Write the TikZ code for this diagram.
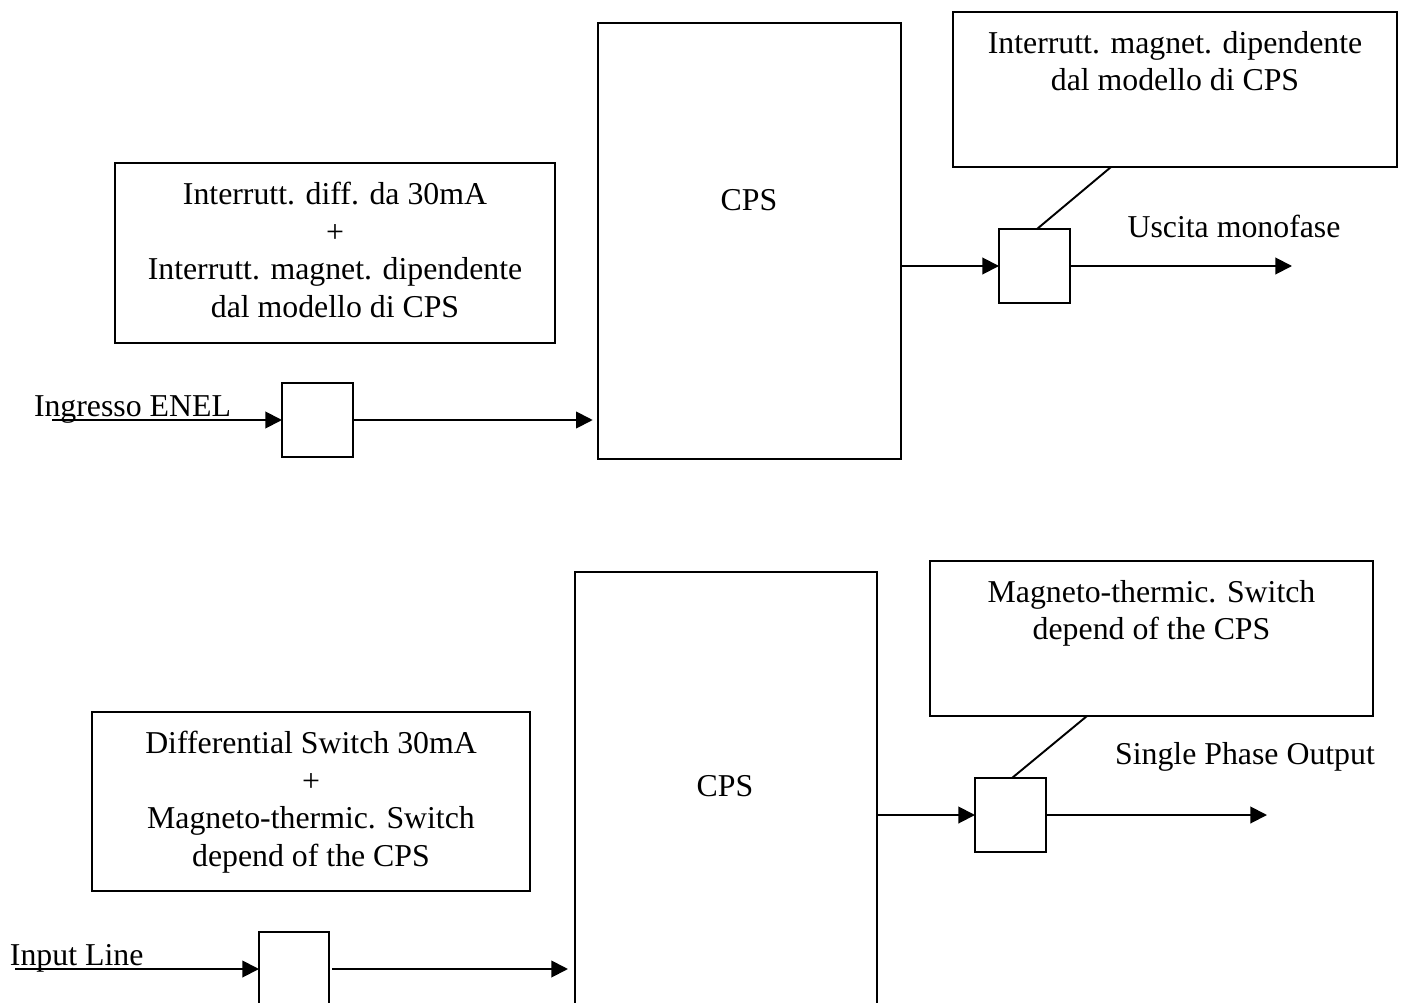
\documentclass[tikz,border=0pt]{standalone}
\usepackage{fontspec}
\setmainfont{Liberation Serif}
\usetikzlibrary{arrows.meta,calc,fit}
\begin{document}
\begin{tikzpicture}[x=0.02cm,y=-0.02cm,
  every node/.style={font=\fontsize{18.1}{21.5}\selectfont, inner sep=0pt, outer sep=0pt},
  box/.style={draw, line width=1.1pt, rectangle, inner sep=0pt},
  lbl/.style={align=center, anchor=north},
  arr/.style={line width=1.1pt, -{Triangle[length=9.5pt,width=9.5pt]}},
  ln/.style={line width=1.1pt}]
\useasboundingbox (0,0) rectangle (1402,1003);
\clip (0,0) rectangle (1402,1003);

% ---------- top diagram ----------
\node[box, fit={(115,163) (555,343)}] (B1) {};
\node[lbl] (T1) at ($(B1.north)+(0,19)$) {Interrutt. diff. da 30mA\\+\\Interrutt. magnet. dipendente\\dal modello di CPS};
\node[box, fit={(282,383) (353,457)}] (S1) {};
\node[box, fit={(598,23) (901,459)}] (C1) {};
\node[anchor=base] (C1t) at (749,211) {CPS};
\node[box, fit={(999,229) (1070,303)}] (S2) {};
\node[box, fit={(953,12) (1397,167)}] (B2) {};
\node[lbl] (T2) at ($(B2.north)+(0,19)$) {Interrutt. magnet. dipendente\\dal modello di CPS};
\node[anchor=base west] (in1t) at (34,416) {Ingresso ENEL};
\node[anchor=base] (out1t) at (1234,238) {Uscita monofase};
\coordinate (in1) at (52,420);
\coordinate (out1) at (1292,266);
\draw[arr] (in1) -- (in1 -| S1.west);
\draw[arr, shorten >=3pt] (S1.east) -- (S1.east -| C1.west);
\draw[arr] (S2.west -| C1.east) -- (S2.west);
\draw[arr] (S2.east) -- (out1);
\draw[ln] ($(S2.north west)+(38,0)$) -- ($(B2.south west)+(158,0)$);

% ---------- bottom diagram ----------
\node[box, fit={(92,712) (530,891)}] (B3) {};
\node[lbl] (T3) at ($(B3.north)+(0,19)$) {Differential Switch 30mA\\+\\Magneto-thermic. Switch\\depend of the CPS};
\node[box, fit={(259,932) (329,1060)}] (S3) {};
\node[box, fit={(575,572) (877,1060)}] (C2) {};
\node[anchor=base] (C2t) at (725,796) {CPS};
\node[box, fit={(975,778) (1046,852)}] (S4) {};
\node[box, fit={(930,561) (1373,716)}] (B4) {};
\node[lbl] (T4) at ($(B4.north)+(0,19)$) {Magneto-thermic. Switch\\depend of the CPS};
\node[anchor=base west] (in2t) at (10,965) {Input Line};
\node[anchor=base] (out2t) at (1245,764) {Single Phase Output};
\coordinate (in2) at (15,969);
\coordinate (out2) at (1267,815);
\draw[arr] (in2) -- (in2 -| S3.west);
\draw[arr, shorten >=4pt] ($(in2 -| S3.east)+(3,0)$) -- (in2 -| C2.west);
\draw[arr] (S4.west -| C2.east) -- (S4.west);
\draw[arr] (S4.east) -- (out2);
\draw[ln] ($(S4.north west)+(37,0)$) -- ($(B4.south west)+(157,0)$);
\end{tikzpicture}
\end{document}
